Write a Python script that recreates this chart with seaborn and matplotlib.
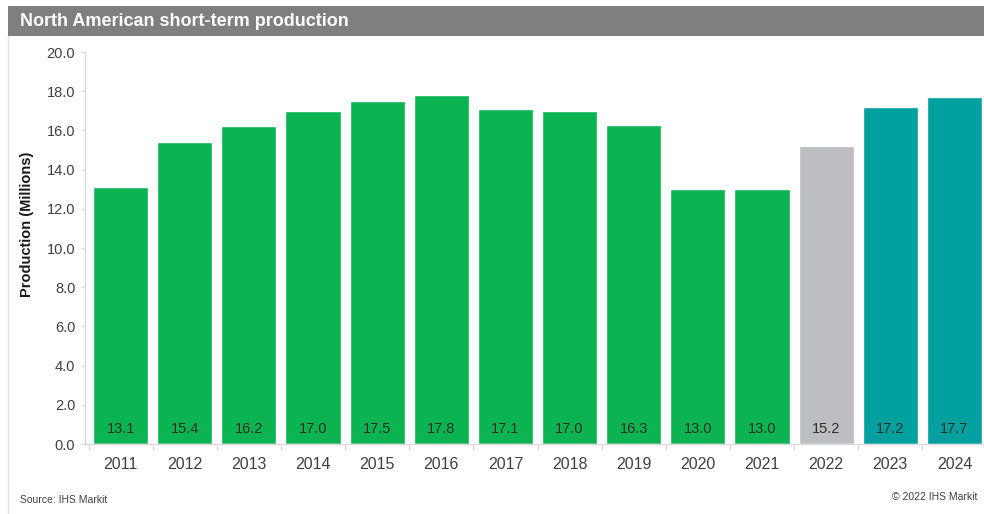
import matplotlib
matplotlib.use("Agg")
import matplotlib.pyplot as plt
from matplotlib.patches import Rectangle
from matplotlib.lines import Line2D
from matplotlib.ticker import FixedLocator, FormatStrFormatter
import seaborn as sns
import pandas as pd

# Annual North American light-vehicle production, millions of units
years = ["2011", "2012", "2013", "2014", "2015", "2016", "2017",
         "2018", "2019", "2020", "2021", "2022", "2023", "2024"]
production = [13.1, 15.4, 16.2, 17.0, 17.5, 17.8, 17.1,
              17.0, 16.3, 13.0, 13.0, 15.2, 17.2, 17.7]
# history / current-year estimate / forecast
status = ["actual"] * 11 + ["estimate"] + ["forecast"] * 2
status_colors = {"actual": "#0CB451", "estimate": "#BDBEC1", "forecast": "#00A09F"}

df = pd.DataFrame({"year": years, "production": production, "status": status})

sns.set_theme(style="white")
plt.rcParams["font.family"] = ["Liberation Sans", "DejaVu Sans"]

W, H = 984, 514
fig = plt.figure(figsize=(W / 100, H / 100), dpi=100)
fig.patch.set_facecolor("white")

# header band with title
fig.add_artist(Rectangle((8 / W, 1 - 36 / H), 1 - 8 / W, 30 / H,
                         transform=fig.transFigure, facecolor="#7F7F7F",
                         edgecolor="none"))
fig.text(20 / W, 1 - 21 / H, "North American short-term production",
         color="white", fontsize=13, fontweight="bold", va="center", ha="left")
fig.add_artist(Line2D([8 / W, 8 / W], [0, 1 - 36 / H], transform=fig.transFigure,
                      color="#E3E3E3", lw=1))

ax = fig.add_axes([85 / W, 70 / H, (W - 85) / W, (444 - 52) / H])
sns.barplot(data=df, x="year", y="production", hue="status",
            palette=status_colors, dodge=False, width=0.86, legend=False,
            saturation=1, ax=ax)

ax.set_ylim(0, 20)
ax.set_xlim(-0.555, 13.46)
ax.yaxis.set_major_locator(FixedLocator([i * 2 for i in range(11)]))
ax.yaxis.set_major_formatter(FormatStrFormatter("%.1f"))
ax.xaxis.set_minor_locator(FixedLocator([i + 0.5 for i in range(-1, 14)]))

for s in ["top", "right"]:
    ax.spines[s].set_visible(False)
for s in ["left", "bottom"]:
    ax.spines[s].set_color("#D9D9D9")
    ax.spines[s].set_linewidth(1)

ax.tick_params(axis="y", which="major", left=True, length=3, width=1,
               color="#D9D9D9", pad=4, labelsize=10.5, labelcolor="#404040")
ax.tick_params(axis="x", which="major", bottom=False, pad=3.5,
               labelsize=11.5, labelcolor="#404040")
ax.tick_params(axis="x", which="minor", bottom=True, length=4, width=1,
               color="#D9D9D9")

ax.set_xlabel("")
ax.set_ylabel("")
fig.text(27 / W, 1 - 224 / H, "Production (Millions)", rotation=90,
         fontsize=10.5, fontweight="bold", color="#1A1A1A",
         ha="center", va="center")

# value labels near the base of each bar
for i, v in enumerate(production):
    ax.text(i, 0.75, f"{v:.1f}", ha="center", va="center",
            fontsize=10.5, color="#2A2F2A")

fig.text(20 / W, 1 - 500 / H, "Source: IHS Markit", fontsize=7.5,
         color="#404040", ha="left", va="center")
fig.text(977 / W, 1 - 497 / H, "\u00a9 2022 IHS Markit", fontsize=7.5,
         color="#404040", ha="right", va="center")

fig.savefig("out.png", dpi=100, facecolor="white")
